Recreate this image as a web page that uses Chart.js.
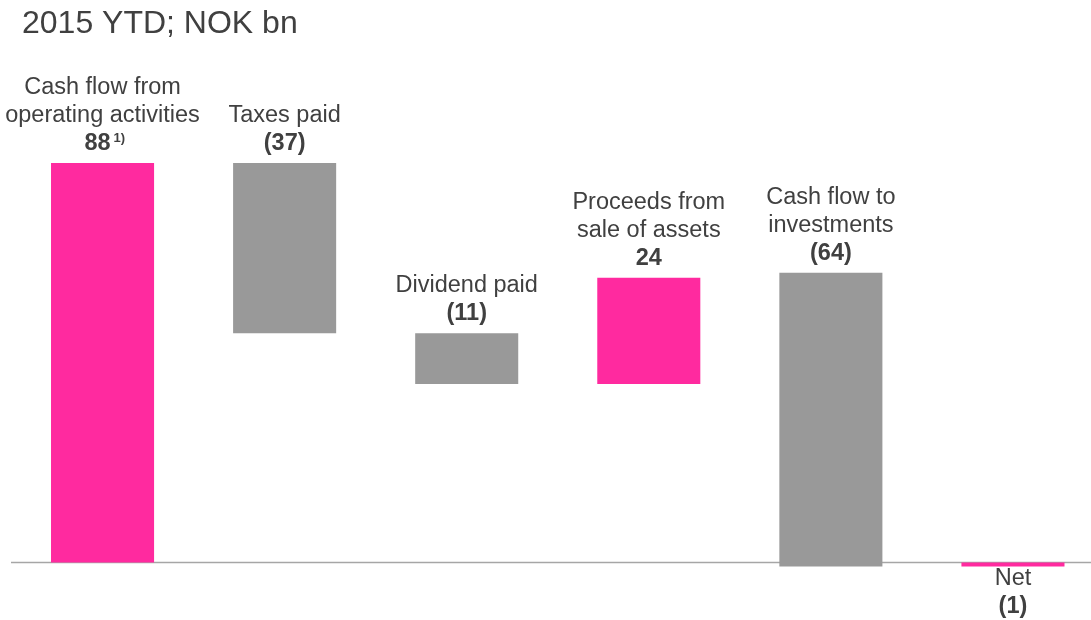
<!DOCTYPE html>
<html>
<head>
<meta charset="utf-8">
<script src="https://cdn.jsdelivr.net/npm/chart.js@4/dist/chart.umd.min.js"></script>
<style>
  html, body { margin: 0; padding: 0; background: #fff; overflow: hidden; }
  #wrap { position: relative; width: 1104px; height: 620px; }
</style>
</head>
<body>
<div id="wrap"><canvas id="chart" width="1104" height="620"></canvas></div>
<script>
// ---------------- DATA ----------------
const categories = ['operating', 'taxes', 'dividend', 'proceeds', 'investments', 'net'];
const barStart = [0, 88, 50.5, 39.3, 63.8, 0];
const barEnd   = [88, 50.5, 39.3, 62.7, -0.9, -0.9];
const labelLines = [
  ['Cash flow from', 'operating activities'],
  ['Taxes paid'],
  ['Dividend paid'],
  ['Proceeds from', 'sale of assets'],
  ['Cash flow to', 'investments'],
  ['Net']
];
const valueLabels = ['88', '(37)', '(11)', '24', '(64)', '(1)'];
const labelBelow = [false, false, false, false, false, true];
const footnotes = ['1)', '', '', '', '', ''];

const PINK = '#FF2A9F';
const GREY = '#999999';
const TEXT = '#404040';
const barColors = [PINK, GREY, GREY, PINK, GREY, PINK];

// -------- LABELS PLUGIN --------
const waterfallLabels = {
  id: 'waterfallLabels',
  beforeDatasetsDraw(chart) {
    const ctx = chart.ctx;
    const y0 = chart.scales.y.getPixelForValue(0);
    ctx.save();
    ctx.strokeStyle = '#A6A6A6';
    ctx.lineWidth = 1.5;
    ctx.beginPath();
    ctx.moveTo(11, y0);
    ctx.lineTo(chart.width, y0);
    ctx.stroke();
    ctx.restore();
  },
  afterDatasetsDraw(chart) {
    const ctx = chart.ctx;
    const meta = chart.getDatasetMeta(0);
    const lineH = 28;
    ctx.save();
    ctx.fillStyle = TEXT;
    ctx.textAlign = 'center';
    ctx.textBaseline = 'alphabetic';

    meta.data.forEach((bar, i) => {
      const top = Math.min(bar.y, bar.base);
      const bottom = Math.max(bar.y, bar.base);
      const lines = labelLines[i];
      let baseLines;
      if (labelBelow[i]) {
        const first = bottom + 18;
        baseLines = lines.map((_, k) => first + k * lineH);
        baseLines.push(first + lines.length * lineH);
      } else {
        const last = top - 13;
        baseLines = lines.map((_, k) => last - (lines.length - k) * lineH);
        baseLines.push(last);
      }

      ctx.font = '23.5px "Liberation Sans", Arial, sans-serif';
      lines.forEach((t, k) => ctx.fillText(t, bar.x, baseLines[k]));

      ctx.font = 'bold 23.5px "Liberation Sans", Arial, sans-serif';
      const vy = baseLines[lines.length];
      if (footnotes[i]) {
        const vx = bar.x - 5;
        ctx.fillText(valueLabels[i], vx, vy);
        const w = ctx.measureText(valueLabels[i]).width;
        ctx.textAlign = 'left';
        ctx.font = 'bold 13px "Liberation Sans", Arial, sans-serif';
        ctx.fillText(footnotes[i], vx + w / 2 + 3, vy - 8);
        ctx.textAlign = 'center';
      } else {
        ctx.fillText(valueLabels[i], bar.x, vy);
      }
    });

    // title
    ctx.textAlign = 'left';
    ctx.font = '32px "Liberation Sans", Arial, sans-serif';
    ctx.fillText('2015 YTD; NOK bn', 22, 33);
    ctx.restore();
  }
};

// -------- CHART --------
const chart = new Chart(document.getElementById('chart'), {
  type: 'bar',
  data: {
    labels: categories,
    datasets: [{
      data: categories.map((_, i) => [barStart[i], barEnd[i]]),
      backgroundColor: barColors,
      borderWidth: 0,
      borderSkipped: false,
      barPercentage: 0.566,
      categoryPercentage: 1
    }]
  },
  options: {
    responsive: false,
    animation: false,
    layout: { padding: { left: 11.5, right: 0, top: 0, bottom: 0 } },
    plugins: {
      legend: { display: false },
      tooltip: { enabled: false }
    },
    scales: {
      x: { display: false, offset: true },
      y: { display: false, min: -12.67, max: 123.9 }
    }
  },
  plugins: [waterfallLabels]
});
</script>
</body>
</html>
